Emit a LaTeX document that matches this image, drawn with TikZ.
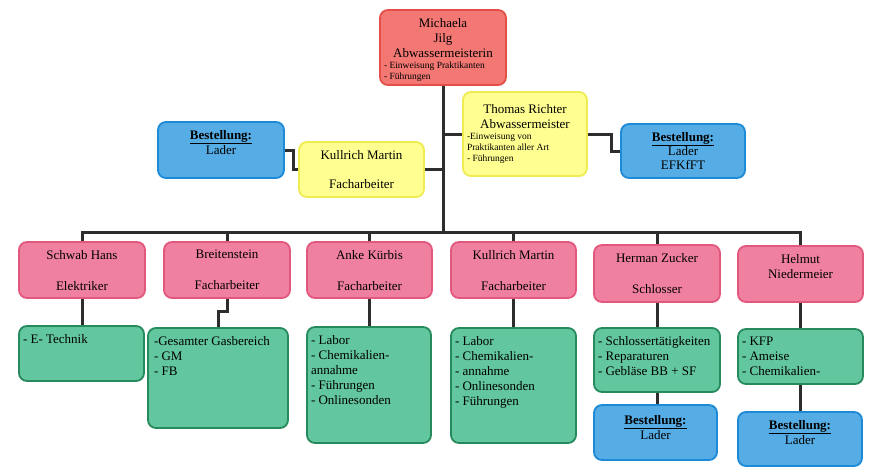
\documentclass[tikz,border=0pt]{standalone}
\usepackage{fontspec}
\setmainfont{Liberation Serif}
\usepackage{tikz}
\usetikzlibrary{positioning}
\definecolor{leadred}{RGB}{243,120,115}
\definecolor{leadredline}{RGB}{228,78,72}
\definecolor{deputyyellow}{RGB}{255,255,145}
\definecolor{deputyyellowline}{RGB}{238,236,80}
\definecolor{orderblue}{RGB}{86,172,228}
\definecolor{orderblueline}{RGB}{28,138,215}
\definecolor{staffpink}{RGB}{240,128,160}
\definecolor{staffpinkline}{RGB}{226,88,124}
\definecolor{taskgreen}{RGB}{98,198,158}
\definecolor{taskgreenline}{RGB}{38,138,92}
\definecolor{wiregray}{RGB}{45,45,45}

\newcommand{\boxtext}[3]{\parbox[c][\dimexpr #2pt-16pt\relax][t]{\dimexpr #1pt-8pt\relax}{#3}}
\newcommand{\smalltext}{\fontsize{9.5}{11}\selectfont}
\newcommand{\order}{\underline{\textbf{Bestellung:}}}

\tikzset{
  orgbox/.style={draw, rounded corners=8pt, line width=1.8pt, inner xsep=4pt, inner ysep=8pt, font=\fontsize{13}{15}\selectfont},
  leadbox/.style={orgbox, fill=leadred, draw=leadredline},
  deputybox/.style={orgbox, fill=deputyyellow, draw=deputyyellowline},
  orderbox/.style={orgbox, fill=orderblue, draw=orderblueline},
  staffbox/.style={orgbox, fill=staffpink, draw=staffpinkline},
  taskbox/.style={orgbox, fill=taskgreen, draw=taskgreenline},
  wire/.style={draw=wiregray, line width=3pt}
}

\begin{document}
\begin{tikzpicture}[x=1pt, y=-1pt]
        \fill[white] (0,0) rectangle (869,468);
        \useasboundingbox (0,0) rectangle (869,468);

        \coordinate (v1) at (443,47.5);
        \coordinate (v2) at (525,134);
        \coordinate (v3) at (221,150);
        \coordinate (v4) at (361.5,169.5);
        \coordinate (v5) at (683,151);
        \coordinate (bus) at (443,232);

        \node[leadbox] (jilg) at (v1) {\boxtext{126}{75}{\centering Michaela\\Jilg\\Abwassermeisterin\par
            \raggedright\smalltext - Einweisung Praktikanten\\- Führungen}};
        \node[deputybox] (richter) at (v2) {\boxtext{124}{84}{\vspace*{4pt}\centering Thomas Richter\\Abwassermeister\par
            \raggedright\smalltext -Einweisung von\\Praktikanten aller Art\\- Führungen}};
        \node[orderbox] (laderL) at (v3) {\boxtext{126}{56}{\centering\order\\Lader}};
        \node[deputybox] (kullrichY) at (v4) {\boxtext{125}{55}{\centering Kullrich Martin\\[14pt]Facharbeiter}};
        \node[orderbox] (laderR) at (v5) {\boxtext{124}{54}{\centering\order\\[-1pt]Lader\\[-1pt]EFKfFT}};

        \node[staffbox] (schwab) at (82,270) {\boxtext{126}{56}{\centering Schwab Hans\\[16pt]Elektriker}};
        \node[staffbox] (breit) at (227,270) {\boxtext{126}{56}{\centering Breitenstein\\[16pt]Facharbeiter}};
        \node[staffbox] (kuerbis) at (369.5,270) {\boxtext{125}{56}{\centering Anke Kürbis\\[16pt]Facharbeiter}};
        \node[staffbox] (kullrichP) at (513.5,270) {\boxtext{125}{56}{\centering Kullrich Martin\\[16pt]Facharbeiter}};
        \node[staffbox] (zucker) at (657,273.5) {\boxtext{126}{57}{\centering Herman Zucker\\[16pt]Schlosser}};
        \node[staffbox] (helmut) at (800.5,274) {\boxtext{125}{56}{\centering Helmut\\Niedermeier}};

        \node[taskbox] (taskE) at (81.5,353.5) {\boxtext{125}{55}{\raggedright - E- Technik}};
        \node[taskbox] (taskGas) at (218,378) {\boxtext{140}{100}{\raggedright\hspace*{2pt}-Gesamter Gasbereich\\\hspace*{2pt}- GM\\\hspace*{2pt}- FB}};
        \node[taskbox] (taskLabA) at (369,385) {\boxtext{124}{116}{\raggedright - Labor\\- Chemikalien-\\annahme\\- Führungen\\- Onlinesonden}};
        \node[taskbox] (taskLabB) at (513.5,385.5) {\boxtext{125}{115}{\raggedright - Labor\\- Chemikalien-\\- annahme\\- Onlinesonden\\- Führungen}};
        \node[taskbox] (taskSchl) at (657,360) {\boxtext{126}{64}{\raggedright - Schlossertätigkeiten\\- Reparaturen\\- Gebläse BB + SF}};
        \node[taskbox] (taskKFP) at (800.5,356.5) {\boxtext{125}{55}{\raggedright - KFP\\- Ameise\\- Chemikalien-}};

        \node[orderbox] (laderZ) at (655.5,432.5) {\boxtext{123}{55}{\centering\vspace*{2pt}\order\\Lader}};
        \node[orderbox] (laderH) at (800,439) {\boxtext{124}{54}{\centering\order\\Lader}};

        \draw[wire] (jilg.south) -- (jilg.south |- bus);
        \draw[wire] (richter.west) -- (richter.west -| jilg.south);
        \draw[wire] (kullrichY.east) -- (kullrichY.east -| jilg.south);
        \draw[wire] (laderL.east) -- ++(9,0) |- (kullrichY.west);
        \draw[wire] (richter.east) -- ++(24,0) |- (laderR.west);
        \draw[wire] (schwab.north) -- (schwab.north |- bus) -- (helmut.north |- bus) -- (helmut.north);
        \foreach \n in {breit,kuerbis,kullrichP,zucker}
            \draw[wire] (\n.north) -- (\n.north |- bus);
        \foreach \s/\t in {schwab/taskE,kuerbis/taskLabA,kullrichP/taskLabB,zucker/taskSchl,helmut/taskKFP,taskSchl/laderZ,taskKFP/laderH}
            \draw[wire] (\s.south) -- (\s.south |- \t.north);
        \draw[wire] (breit.south) -- ++(0,13) -| (taskGas.north);
\end{tikzpicture}
\end{document}
